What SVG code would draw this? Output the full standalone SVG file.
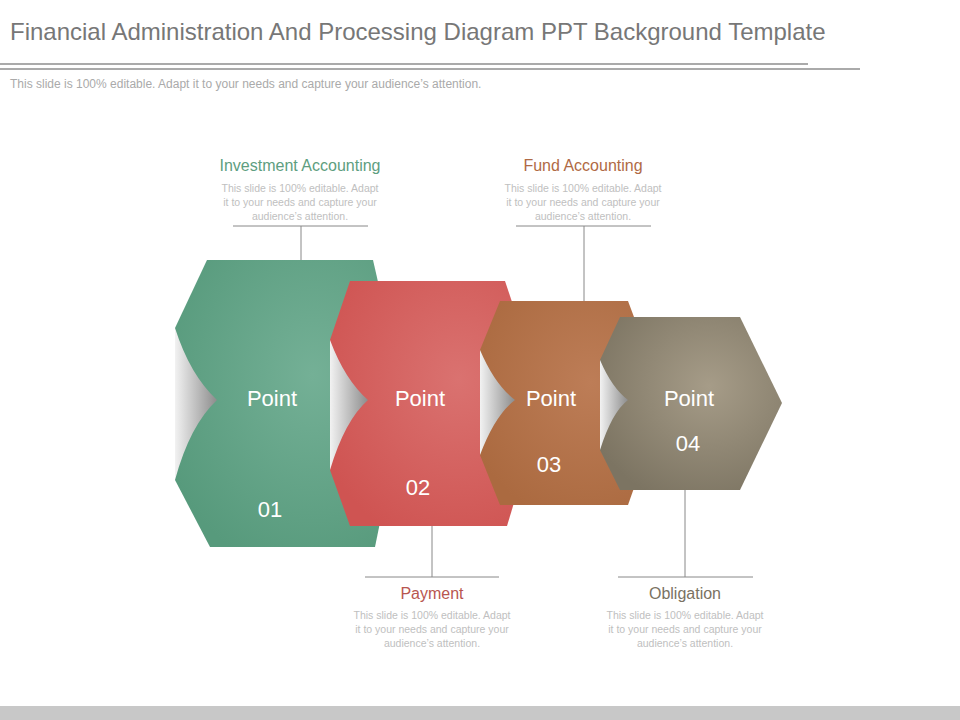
<svg xmlns="http://www.w3.org/2000/svg" width="960" height="720" viewBox="0 0 960 720">
<style>
text{font-family:"Liberation Sans",Arial,sans-serif}
.h{font-size:16px;text-anchor:middle}
.d{font-size:10.5px;fill:#c0c0c0;text-anchor:middle}
.p{font-size:22px;fill:#fff;text-anchor:middle}
.ln{stroke:#888;stroke-width:1;fill:none}
</style>
<defs>
<radialGradient id="gg" cx="0.6" cy="0.4" r="0.7"><stop offset="0" stop-color="#74b096"/><stop offset="1" stop-color="#579a7c"/></radialGradient>
<radialGradient id="gr" cx="0.6" cy="0.4" r="0.7"><stop offset="0" stop-color="#da7270"/><stop offset="1" stop-color="#cf5452"/></radialGradient>
<radialGradient id="gb" cx="0.6" cy="0.4" r="0.7"><stop offset="0" stop-color="#bd7d57"/><stop offset="1" stop-color="#ab6a40"/></radialGradient>
<radialGradient id="gy" cx="0.6" cy="0.4" r="0.7"><stop offset="0" stop-color="#a69c88"/><stop offset="1" stop-color="#7c7462"/></radialGradient>
<linearGradient id="nt" x1="0" y1="0" x2="1" y2="0"><stop offset="0" stop-color="#f2f2f2"/><stop offset="1" stop-color="#8c8c8c"/></linearGradient>
</defs>
<rect width="960" height="720" fill="#fff"/>
<text x="10" y="40" font-size="24" fill="#777">Financial Administration And Processing Diagram PPT  Background Template</text>
<line x1="0" y1="64" x2="808" y2="64" stroke="#aaa" stroke-width="2"/>
<line x1="0" y1="69" x2="860" y2="69" stroke="#aaa" stroke-width="2"/>
<text x="10" y="88" font-size="12" fill="#aaa">This slide is 100% editable.  Adapt it to your needs and capture your audience’s attention.</text>
<g id="connectors">
<path class="ln" d="M233 226H368M301 226V260"/>
<path class="ln" d="M516 226H651M584 226V301"/>
<path class="ln" d="M365 577H499M432 526V577"/>
<path class="ln" d="M618 577H753M685 490V577"/>
</g>
<g id="node1">
<polygon points="207,260 373,260 405,400 375,547 210,547 175,480 175,328" fill="url(#gg)"/>
<path d="M175 328Q190 375 217 400Q190 425 175 480Z" fill="url(#nt)"/>
<text class="p" x="272" y="406">Point</text><text class="p" x="270" y="517">01</text>
</g>
<g id="node2">
<polygon points="350,281 505,281 545,400 507,526 350,526 330,470 330,340" fill="url(#gr)"/>
<path d="M330 340Q345 380 368 400Q345 420 330 470Z" fill="url(#nt)"/>
<text class="p" x="420" y="406">Point</text><text class="p" x="418" y="495">02</text>
</g>
<g id="node3">
<polygon points="500,301 628,301 665,400 628,505 500,505 480,455 480,350" fill="url(#gb)"/>
<path d="M480 350Q495 385 515 400Q495 415 480 455Z" fill="url(#nt)"/>
<text class="p" x="551" y="406">Point</text><text class="p" x="549" y="472">03</text>
</g>
<g id="node4">
<polygon points="620,317 740,317 782,403 740,490 620,490 600,450 600,360" fill="url(#gy)"/>
<path d="M600 360Q612 388 628 400Q612 412 600 450Z" fill="url(#nt)"/>
<text class="p" x="689" y="406">Point</text><text class="p" x="688" y="451">04</text>
</g>
<g id="labels">
<text class="h" x="300" y="171" fill="#5e9e80">Investment Accounting</text>
<text class="d" x="300" y="192">This slide is 100% editable. Adapt</text><text class="d" x="300" y="206">it to your needs and capture your</text><text class="d" x="300" y="220">audience’s attention.</text>
<text class="h" x="583" y="171" fill="#b06a45">Fund Accounting</text>
<text class="d" x="583" y="192">This slide is 100% editable. Adapt</text><text class="d" x="583" y="206">it to your needs and capture your</text><text class="d" x="583" y="220">audience’s attention.</text>
<text class="h" x="432" y="599" fill="#b85650">Payment</text>
<text class="d" x="432" y="619">This slide is 100% editable. Adapt</text><text class="d" x="432" y="633">it to your needs and capture your</text><text class="d" x="432" y="647">audience’s attention.</text>
<text class="h" x="685" y="599" fill="#7a7262">Obligation</text>
<text class="d" x="685" y="619">This slide is 100% editable. Adapt</text><text class="d" x="685" y="633">it to your needs and capture your</text><text class="d" x="685" y="647">audience’s attention.</text>
</g>
<rect x="0" y="706" width="960" height="14" fill="#c8c8c8"/>
</svg>
